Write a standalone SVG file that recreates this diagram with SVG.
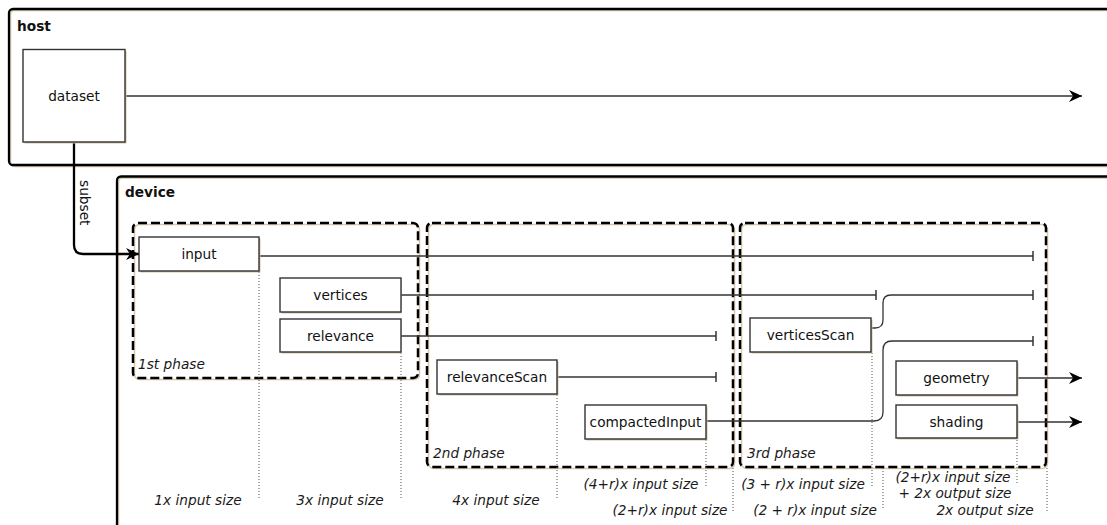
<svg xmlns="http://www.w3.org/2000/svg" width="1107" height="525" viewBox="0 0 1107 525">
  <style>
    text { font-family: "DejaVu Sans", "Liberation Sans", sans-serif; font-size: 13.7px; fill: #111; }
    .title { font-weight: bold; }
    .ital { font-style: italic; fill: #1a1a1a; }
    .lbl { text-anchor: middle; }
    .frame { fill: none; stroke: #000; stroke-width: 2.3; }
    .frameShadow { fill: none; stroke: #d6c8ac; stroke-width: 1.5; }
    .phase { fill: none; stroke: #000; stroke-width: 2.5; stroke-dasharray: 9 4; }
    .box { fill: #fff; stroke: #333; stroke-width: 1.4; }
    .shadow { fill: #d3c3a5; }
    .flow { fill: none; stroke: #333; stroke-width: 1.3; }
    .dot { fill: none; stroke: #555; stroke-width: 1; stroke-dasharray: 1 2; }
  </style>
  <defs>
    <marker id="arrow" markerUnits="userSpaceOnUse" markerWidth="16" markerHeight="14" refX="13" refY="6" orient="auto">
      <path d="M13,6 L0,0 L4,6 L0,12 Z" fill="#000"/>
    </marker>
    <marker id="tee" markerUnits="userSpaceOnUse" markerWidth="4" markerHeight="12" refX="2" refY="6" orient="auto">
      <line x1="2" y1="1" x2="2" y2="11" stroke="#333" stroke-width="1.5"/>
    </marker>
  </defs>

  <!-- host frame -->
  <g id="host">
    <rect x="10.5" y="10.5" width="1150" height="156" rx="4" class="frameShadow"/>
    <rect x="9" y="9" width="1150" height="156" rx="4" class="frame"/>
    <text x="17" y="31" class="title">host</text>
  </g>

  <!-- device frame -->
  <g id="device">
    <rect x="118.5" y="178" width="1050" height="400" rx="4" class="frameShadow"/>
    <rect x="117" y="176.5" width="1050" height="400" rx="4" class="frame"/>
    <text x="125" y="197" class="title">device</text>
  </g>

  <!-- phases -->
  <g id="phase1">
    <rect x="134.5" y="224.5" width="285" height="155" rx="5" class="frameShadow"/>
    <rect x="133" y="223" width="285" height="155" rx="5" class="phase"/>
    <text x="138" y="369" class="ital">1st phase</text>
  </g>
  <g id="phase2">
    <rect x="428.5" y="224.5" width="306" height="244" rx="5" class="frameShadow"/>
    <rect x="427" y="223" width="306" height="244" rx="5" class="phase"/>
    <text x="433" y="458" class="ital">2nd phase</text>
  </g>
  <g id="phase3">
    <rect x="741.5" y="224.5" width="306" height="244" rx="5" class="frameShadow"/>
    <rect x="740" y="223" width="306" height="244" rx="5" class="phase"/>
    <text x="747" y="458" class="ital">3rd phase</text>
  </g>

  <!-- extent markers -->
  <g id="extents">
    <line x1="259" y1="272" x2="259" y2="498" class="dot"/>
    <line x1="401" y1="353" x2="401" y2="498" class="dot"/>
    <line x1="557" y1="395" x2="557" y2="500" class="dot"/>
    <line x1="706" y1="440" x2="706" y2="487" class="dot"/>
    <line x1="733" y1="468" x2="733" y2="513" class="dot"/>
    <line x1="872" y1="353" x2="872" y2="486" class="dot"/>
    <line x1="883" y1="468" x2="883" y2="509" class="dot"/>
    <line x1="1017" y1="440" x2="1017" y2="484" class="dot"/>
    <line x1="1047" y1="468" x2="1047" y2="512" class="dot"/>
  </g>

  <!-- connectors -->
  <g id="connectors">
    <path d="M125,96 H1082" class="flow" marker-end="url(#arrow)"/>
    <path d="M74,142 V245 Q74,254 83,254 H139" fill="none" stroke="#000" stroke-width="2.3" marker-end="url(#arrow)"/>
    <text transform="translate(80,180) rotate(90)">subset</text>
    <path d="M259,256 H1033" class="flow" marker-end="url(#tee)"/>
    <path d="M401,295 H876" class="flow" marker-end="url(#tee)"/>
    <path d="M401,336 H716" class="flow" marker-end="url(#tee)"/>
    <path d="M557,377 H716" class="flow" marker-end="url(#tee)"/>
    <path d="M871,328 H875 Q883,328 883,320 V303 Q883,295 891,295 H1033" class="flow" marker-end="url(#tee)"/>
    <path d="M706,421 H874 Q883,421 883,412 V350 Q883,341 892,341 H1033" class="flow" marker-end="url(#tee)"/>
    <path d="M1017,378 H1082" class="flow" marker-end="url(#arrow)"/>
    <path d="M1017,422 H1082" class="flow" marker-end="url(#arrow)"/>
  </g>

  <!-- nodes -->
  <g id="dataset">
    <rect x="24.5" y="51" width="102" height="92.5" class="shadow"/>
    <rect x="23" y="49.5" width="102" height="92.5" class="box"/>
    <text x="74" y="101" class="lbl">dataset</text>
  </g>
  <g id="input">
    <rect x="140.5" y="238.5" width="120" height="34" class="shadow"/>
    <rect x="139" y="237" width="120" height="34" class="box"/>
    <text x="199" y="259" class="lbl">input</text>
  </g>
  <g id="vertices">
    <rect x="281.5" y="279.5" width="120" height="34" class="shadow"/>
    <rect x="280" y="278" width="121" height="34" class="box"/>
    <text x="340.5" y="300" class="lbl">vertices</text>
  </g>
  <g id="relevance">
    <rect x="281.5" y="320.5" width="120" height="33" class="shadow"/>
    <rect x="280" y="319" width="121" height="33" class="box"/>
    <text x="340.5" y="340.5" class="lbl">relevance</text>
  </g>
  <g id="relevanceScan">
    <rect x="438.5" y="361.5" width="120" height="34" class="shadow"/>
    <rect x="437" y="360" width="120" height="34" class="box"/>
    <text x="497" y="382" class="lbl">relevanceScan</text>
  </g>
  <g id="compactedInput">
    <rect x="586.5" y="406.5" width="121" height="34" class="shadow"/>
    <rect x="585" y="405" width="121" height="34" class="box"/>
    <text x="645.5" y="427" class="lbl">compactedInput</text>
  </g>
  <g id="verticesScan">
    <rect x="751.5" y="319.5" width="121" height="34" class="shadow"/>
    <rect x="750" y="318" width="121" height="34" class="box"/>
    <text x="810.5" y="340" class="lbl">verticesScan</text>
  </g>
  <g id="geometry">
    <rect x="897.5" y="362.5" width="121" height="34" class="shadow"/>
    <rect x="896" y="361" width="121" height="34" class="box"/>
    <text x="956.5" y="383" class="lbl">geometry</text>
  </g>
  <g id="shading">
    <rect x="897.5" y="406.5" width="121" height="33" class="shadow"/>
    <rect x="896" y="405" width="121" height="33" class="box"/>
    <text x="956.5" y="426.5" class="lbl">shading</text>
  </g>

  <!-- memory footprint labels -->
  <g id="footprints" class="ital">
    <text x="198" y="505" class="ital lbl">1x input size</text>
    <text x="340" y="505" class="ital lbl">3x input size</text>
    <text x="496" y="505" class="ital lbl">4x input size</text>
    <text x="641" y="489" class="ital lbl">(4+r)x input size</text>
    <text x="670" y="515" class="ital lbl">(2+r)x input size</text>
    <text x="803" y="489" class="ital lbl">(3 + r)x input size</text>
    <text x="815" y="515" class="ital lbl">(2 + r)x input size</text>
    <text x="953" y="482" class="ital lbl">(2+r)x input size</text>
    <text x="955" y="498" class="ital lbl">+ 2x output size</text>
    <text x="985" y="515" class="ital lbl">2x output size</text>
  </g>
</svg>
